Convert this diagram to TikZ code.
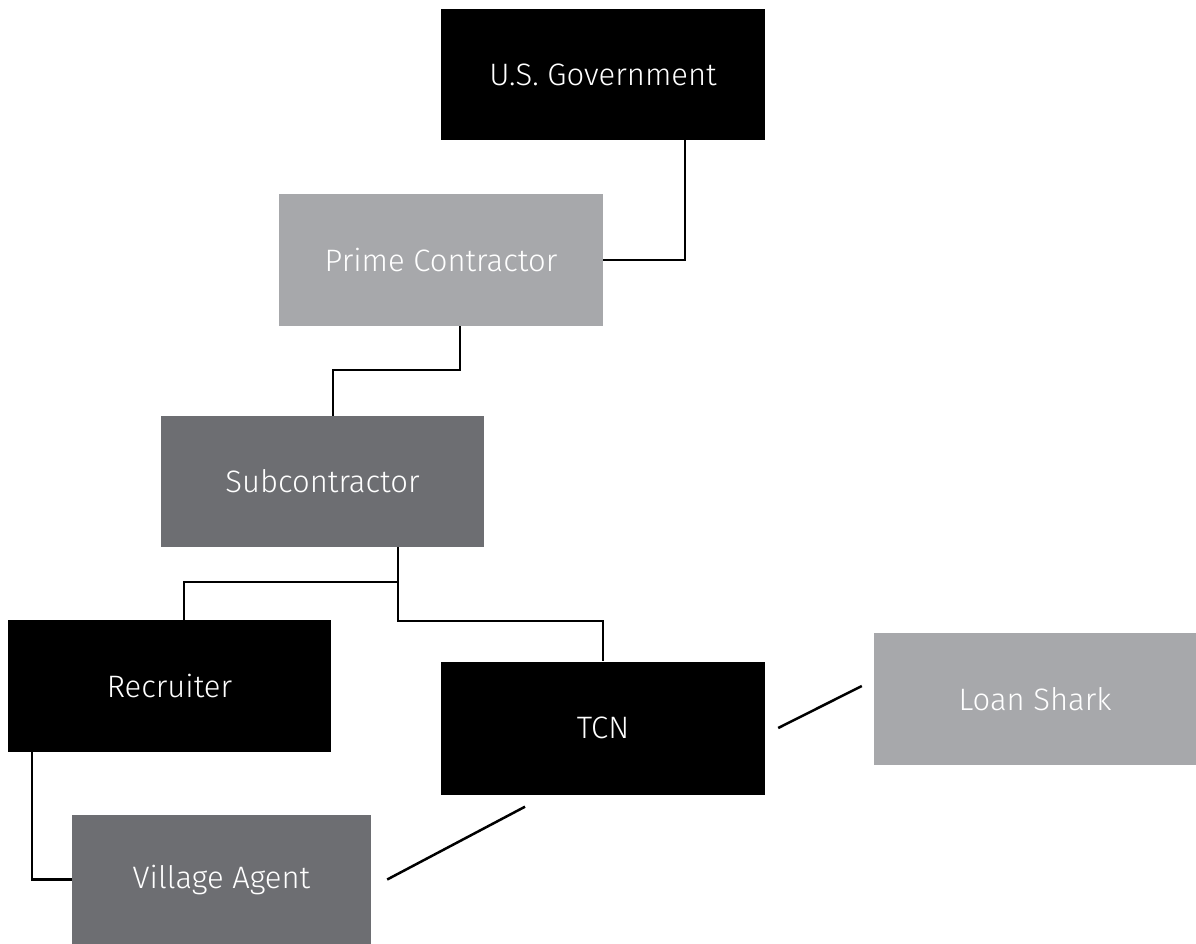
\documentclass[tikz,border=0pt]{standalone}
\usepackage{fontspec}
\setmainfont{Fira Sans}[UprightFont={* Light}]
\usetikzlibrary{positioning}
\definecolor{lightg}{HTML}{A7A8AB}
\definecolor{darkg}{HTML}{6D6E72}
\tikzset{
  box/.style={rectangle, inner sep=0pt, text=white, font=\fontsize{31}{36}\selectfont},
  link/.style={line width=2.5pt, black},
}
\begin{document}
\begin{tikzpicture}[x=1pt,y=-1pt]
\useasboundingbox (0,0) rectangle (1196,944);
\node[box, fill=black, minimum width=324pt, minimum height=131pt] (gov) at (603,74.5) {U.S. Government};
\node[box, fill=lightg, minimum width=324pt, minimum height=132pt] (prime) at (441,260) {Prime Contractor};
\node[box, fill=darkg, minimum width=323pt, minimum height=131pt] (sub) at (322.5,481.5) {Subcontractor};
\node[box, fill=black, minimum width=323pt, minimum height=132pt] (recr) at (169.5,686) {Recruiter};
\node[box, fill=black, minimum width=324pt, minimum height=133pt] (tcn) at (603,728) {TCN};
\node[box, fill=lightg, minimum width=322pt, minimum height=132pt] (loan) at (1035,699) {Loan Shark};
\node[box, fill=darkg, minimum width=299pt, minimum height=129pt] (village) at (221.5,879.5) {Village Agent};

\draw[link] ([xshift=82pt]gov.south) |- (prime.east);
\draw[link] ([xshift=19pt]prime.south) -- ++(0,44) -| ([xshift=10.5pt]sub.north);
\draw[link] ([xshift=75.5pt]sub.south) -- ++(0,35) -| ([xshift=14.5pt]recr.north);
\draw[link] ([xshift=75.5pt]sub.south) -- ++(0,74) -| (tcn.north);
\draw[link] ([xshift=-137.5pt]recr.south) |- (village.west);
\draw[link] ([xshift=-78pt,yshift=-12pt]tcn.south) -- ([xshift=16pt]village.east);
\draw[link] ([xshift=13pt]tcn.east) -- ([xshift=-12pt,yshift=13pt]loan.west);
\end{tikzpicture}
\end{document}
